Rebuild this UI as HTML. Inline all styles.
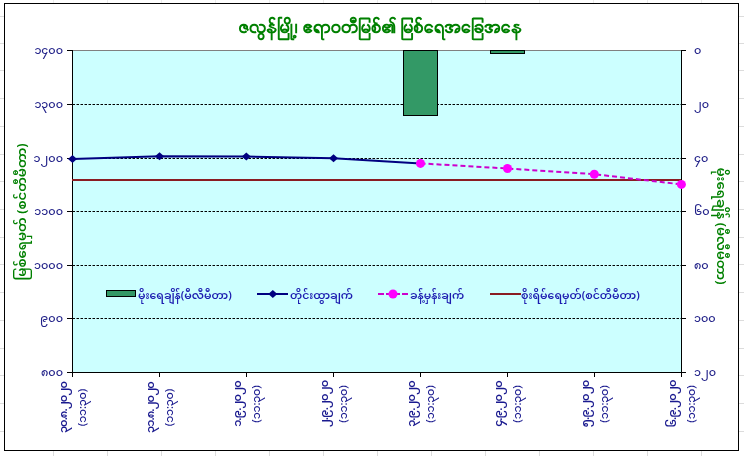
<!DOCTYPE html><html><head><meta charset="utf-8"><title>chart</title><style>
html,body{margin:0;padding:0;background:#fff;width:744px;height:456px;overflow:hidden}
svg{display:block;font-family:"Noto Sans Myanmar", "Padauk", "Myanmar Sans Pro", "Liberation Sans", sans-serif}
</style></head><body>
<svg width="744" height="456" viewBox="0 0 744 456">
<g stroke="#dcdcdc" stroke-width="1">
<line x1="739" y1="16.5" x2="744" y2="16.5"/>
<line x1="0" y1="16.5" x2="4" y2="16.5"/>
<line x1="739" y1="43.5" x2="744" y2="43.5"/>
<line x1="0" y1="43.5" x2="4" y2="43.5"/>
<line x1="739" y1="70.5" x2="744" y2="70.5"/>
<line x1="0" y1="70.5" x2="4" y2="70.5"/>
<line x1="739" y1="98.5" x2="744" y2="98.5"/>
<line x1="0" y1="98.5" x2="4" y2="98.5"/>
<line x1="739" y1="126.5" x2="744" y2="126.5"/>
<line x1="0" y1="126.5" x2="4" y2="126.5"/>
<line x1="739" y1="154.5" x2="744" y2="154.5"/>
<line x1="0" y1="154.5" x2="4" y2="154.5"/>
<line x1="739" y1="181.5" x2="744" y2="181.5"/>
<line x1="0" y1="181.5" x2="4" y2="181.5"/>
<line x1="739" y1="209.5" x2="744" y2="209.5"/>
<line x1="0" y1="209.5" x2="4" y2="209.5"/>
<line x1="739" y1="237.5" x2="744" y2="237.5"/>
<line x1="0" y1="237.5" x2="4" y2="237.5"/>
<line x1="739" y1="264.5" x2="744" y2="264.5"/>
<line x1="0" y1="264.5" x2="4" y2="264.5"/>
<line x1="739" y1="292.5" x2="744" y2="292.5"/>
<line x1="0" y1="292.5" x2="4" y2="292.5"/>
<line x1="739" y1="320.5" x2="744" y2="320.5"/>
<line x1="0" y1="320.5" x2="4" y2="320.5"/>
<line x1="739" y1="348.5" x2="744" y2="348.5"/>
<line x1="0" y1="348.5" x2="4" y2="348.5"/>
<line x1="739" y1="375.5" x2="744" y2="375.5"/>
<line x1="0" y1="375.5" x2="4" y2="375.5"/>
<line x1="739" y1="403.5" x2="744" y2="403.5"/>
<line x1="0" y1="403.5" x2="4" y2="403.5"/>
<line x1="739" y1="431.5" x2="744" y2="431.5"/>
<line x1="0" y1="431.5" x2="4" y2="431.5"/>
<line x1="53.5" y1="451" x2="53.5" y2="456"/>
<line x1="53.5" y1="0" x2="53.5" y2="3" stroke="#ececec"/>
<line x1="107.5" y1="451" x2="107.5" y2="456"/>
<line x1="107.5" y1="0" x2="107.5" y2="3" stroke="#ececec"/>
<line x1="161.5" y1="451" x2="161.5" y2="456"/>
<line x1="161.5" y1="0" x2="161.5" y2="3" stroke="#ececec"/>
<line x1="215.5" y1="451" x2="215.5" y2="456"/>
<line x1="215.5" y1="0" x2="215.5" y2="3" stroke="#ececec"/>
<line x1="269.5" y1="451" x2="269.5" y2="456"/>
<line x1="269.5" y1="0" x2="269.5" y2="3" stroke="#ececec"/>
<line x1="323.5" y1="451" x2="323.5" y2="456"/>
<line x1="323.5" y1="0" x2="323.5" y2="3" stroke="#ececec"/>
<line x1="377.5" y1="451" x2="377.5" y2="456"/>
<line x1="377.5" y1="0" x2="377.5" y2="3" stroke="#ececec"/>
<line x1="431.5" y1="451" x2="431.5" y2="456"/>
<line x1="431.5" y1="0" x2="431.5" y2="3" stroke="#ececec"/>
<line x1="485.5" y1="451" x2="485.5" y2="456"/>
<line x1="485.5" y1="0" x2="485.5" y2="3" stroke="#ececec"/>
<line x1="539.5" y1="451" x2="539.5" y2="456"/>
<line x1="539.5" y1="0" x2="539.5" y2="3" stroke="#ececec"/>
<line x1="593.5" y1="451" x2="593.5" y2="456"/>
<line x1="593.5" y1="0" x2="593.5" y2="3" stroke="#ececec"/>
<line x1="647.5" y1="451" x2="647.5" y2="456"/>
<line x1="647.5" y1="0" x2="647.5" y2="3" stroke="#ececec"/>
<line x1="701.5" y1="451" x2="701.5" y2="456"/>
<line x1="701.5" y1="0" x2="701.5" y2="3" stroke="#ececec"/>
</g>
<rect x="4.5" y="3.5" width="734" height="447" fill="#fff" stroke="#000" stroke-width="1"/>
<rect x="72" y="50" width="609" height="322" fill="#ccffff"/>
<line x1="72" y1="50.5" x2="681" y2="50.5" stroke="#808080" stroke-width="1"/>
<g stroke="#000" stroke-width="1" stroke-dasharray="2.5 1.5">
<line x1="72.5" y1="104.5" x2="681" y2="104.5"/>
<line x1="72.5" y1="158.5" x2="681" y2="158.5"/>
<line x1="72.5" y1="211.5" x2="681" y2="211.5"/>
<line x1="72.5" y1="265.5" x2="681" y2="265.5"/>
<line x1="72.5" y1="318.5" x2="681" y2="318.5"/>
</g>
<g fill="#339966" stroke="#000" stroke-width="1">
<rect x="403.5" y="50.5" width="34" height="65"/>
<rect x="490.5" y="50.5" width="34" height="3"/>
</g>
<g stroke="#000" stroke-width="1">
<line x1="72.5" y1="50" x2="72.5" y2="377"/>
<line x1="681.5" y1="50" x2="681.5" y2="377"/>
<line x1="67" y1="372.5" x2="686" y2="372.5"/>
<line x1="67" y1="50.5" x2="72" y2="50.5"/>
<line x1="682" y1="50.5" x2="686" y2="50.5"/>
<line x1="67" y1="104.5" x2="72" y2="104.5"/>
<line x1="682" y1="104.5" x2="686" y2="104.5"/>
<line x1="67" y1="158.5" x2="72" y2="158.5"/>
<line x1="682" y1="158.5" x2="686" y2="158.5"/>
<line x1="67" y1="211.5" x2="72" y2="211.5"/>
<line x1="682" y1="211.5" x2="686" y2="211.5"/>
<line x1="67" y1="265.5" x2="72" y2="265.5"/>
<line x1="682" y1="265.5" x2="686" y2="265.5"/>
<line x1="67" y1="318.5" x2="72" y2="318.5"/>
<line x1="682" y1="318.5" x2="686" y2="318.5"/>
<line x1="67" y1="372.5" x2="72" y2="372.5"/>
<line x1="682" y1="372.5" x2="686" y2="372.5"/>
<line x1="72.5" y1="372" x2="72.5" y2="377"/>
<line x1="159.5" y1="372" x2="159.5" y2="377"/>
<line x1="246.5" y1="372" x2="246.5" y2="377"/>
<line x1="333.5" y1="372" x2="333.5" y2="377"/>
<line x1="420.5" y1="372" x2="420.5" y2="377"/>
<line x1="507.5" y1="372" x2="507.5" y2="377"/>
<line x1="594.5" y1="372" x2="594.5" y2="377"/>
<line x1="681.5" y1="372" x2="681.5" y2="377"/>
</g>
<line x1="72" y1="180" x2="681" y2="180" stroke="#8a1c22" stroke-width="2"/>
<polyline points="72.5,159.0 159.5,156.3 246.3,156.5 333.5,158.3 420.5,163.4" fill="none" stroke="#000080" stroke-width="2"/>
<polyline points="420.5,163.4 507.5,168.5 594.3,174.2 681.4,184.4" fill="none" stroke="#cc00cc" stroke-width="2" stroke-dasharray="5 3"/>
<path d="M72.5 155.0l4.5 4l-4.5 4l-4.5 -4z" fill="#000080"/>
<path d="M159.5 152.3l4.5 4l-4.5 4l-4.5 -4z" fill="#000080"/>
<path d="M246.3 152.5l4.5 4l-4.5 4l-4.5 -4z" fill="#000080"/>
<path d="M333.5 154.3l4.5 4l-4.5 4l-4.5 -4z" fill="#000080"/>
<circle cx="420.5" cy="163.4" r="4.5" fill="#ff00ff"/>
<circle cx="507.5" cy="168.5" r="4.5" fill="#ff00ff"/>
<circle cx="594.3" cy="174.2" r="4.5" fill="#ff00ff"/>
<circle cx="681.4" cy="184.4" r="4.5" fill="#ff00ff"/>
<text x="381" y="32.7" text-anchor="middle" font-family='"TharLon", "Noto Sans Myanmar", "Padauk", "Liberation Sans", sans-serif' font-size="15.5" font-weight="bold" fill="#008000">ဇလွန်မြို့၊ ဧရာဝတီမြစ်၏ မြစ်ရေအခြေအနေ</text>
<g fill="#24248a" font-weight="500" font-size="11.2" text-anchor="end">
<text x="63" y="54.0">၁၄၀၀</text>
<text x="63" y="108.0">၁၃၀၀</text>
<text x="63" y="162.0">၁၂၀၀</text>
<text x="63" y="215.0">၁၁၀၀</text>
<text x="63" y="269.0">၁၀၀၀</text>
<text x="63" y="322.0">၉၀၀</text>
<text x="63" y="376.0">၈၀၀</text>
</g>
<g fill="#24248a" font-weight="500" font-size="11.2" text-anchor="start">
<text x="694" y="54.0">၀</text>
<text x="694" y="108.0">၂၀</text>
<text x="694" y="162.0">၄၀</text>
<text x="694" y="215.0">၆၀</text>
<text x="694" y="269.0">၈၀</text>
<text x="694" y="322.0">၁၀၀</text>
<text x="694" y="376.0">၁၂၀</text>
</g>
<g fill="#1a1a8f" font-weight="600" text-anchor="middle">
<text transform="translate(72.0 407.5) rotate(-90)"><tspan x="0" y="-5" font-size="11.5" letter-spacing="-1">၃၀.၈.၂၀၂၀</tspan><tspan x="0" y="13.5" font-size="11.3" font-weight="500" letter-spacing="-0.2">(၁၁:၃၀)</tspan></text>
<text transform="translate(159.0 407.5) rotate(-90)"><tspan x="0" y="-5" font-size="11.5" letter-spacing="-1">၃၁.၈.၂၀၂၀</tspan><tspan x="0" y="13.5" font-size="11.3" font-weight="500" letter-spacing="-0.2">(၁၁:၃၀)</tspan></text>
<text transform="translate(246.0 404.0) rotate(-90)"><tspan x="0" y="-5" font-size="11.5" letter-spacing="-1">၁.၉.၂၀၂၀</tspan><tspan x="0" y="13.5" font-size="11.3" font-weight="500" letter-spacing="-0.2">(၁၁:၃၀)</tspan></text>
<text transform="translate(333.0 404.0) rotate(-90)"><tspan x="0" y="-5" font-size="11.5" letter-spacing="-1">၂.၉.၂၀၂၀</tspan><tspan x="0" y="13.5" font-size="11.3" font-weight="500" letter-spacing="-0.2">(၁၁:၃၀)</tspan></text>
<text transform="translate(420.0 404.0) rotate(-90)"><tspan x="0" y="-5" font-size="11.5" letter-spacing="-1">၃.၉.၂၀၂၀</tspan><tspan x="0" y="13.5" font-size="11.3" font-weight="500" letter-spacing="-0.2">(၁၁:၃၀)</tspan></text>
<text transform="translate(507.0 404.0) rotate(-90)"><tspan x="0" y="-5" font-size="11.5" letter-spacing="-1">၄.၉.၂၀၂၀</tspan><tspan x="0" y="13.5" font-size="11.3" font-weight="500" letter-spacing="-0.2">(၁၁:၃၀)</tspan></text>
<text transform="translate(594.0 404.0) rotate(-90)"><tspan x="0" y="-5" font-size="11.5" letter-spacing="-1">၅.၉.၂၀၂၀</tspan><tspan x="0" y="13.5" font-size="11.3" font-weight="500" letter-spacing="-0.2">(၁၁:၃၀)</tspan></text>
<text transform="translate(681.0 404.0) rotate(-90)"><tspan x="0" y="-5" font-size="11.5" letter-spacing="-1">၆.၉.၂၀၂၀</tspan><tspan x="0" y="13.5" font-size="11.3" font-weight="500" letter-spacing="-0.2">(၁၁:၃၀)</tspan></text>
</g>
<text transform="translate(25.8 212) rotate(-90)" text-anchor="middle" font-size="13.2" font-weight="600" fill="#008000">မြစ်ရေမှတ် (စင်တီမီတာ)</text>
<text transform="translate(716.5 226) rotate(90)" text-anchor="middle" font-size="13.2" font-weight="600" fill="#008000">မိုးရေချိန် (မီလီမီတာ)</text>
<rect x="106.5" y="290.5" width="29" height="6" fill="#339966" stroke="#000" stroke-width="1"/>
<line x1="257" y1="294" x2="288" y2="294" stroke="#000080" stroke-width="2"/>
<path d="M272.8 290l4.5 4l-4.5 4l-4.5 -4z" fill="#000080"/>
<line x1="378" y1="294" x2="408" y2="294" stroke="#cc00cc" stroke-width="2" stroke-dasharray="6 2"/>
<circle cx="393" cy="294" r="4.5" fill="#ff00ff"/>
<line x1="490" y1="294" x2="521" y2="294" stroke="#8a1c22" stroke-width="2"/>
<g fill="#1c1cb0" font-weight="600" font-size="10.9">
<text x="138" y="299">မိုးရေချိန်(မီလီမီတာ)</text>
<text x="290" y="299">တိုင်းထွာချက်</text>
<text x="410" y="299">ခန့်မှန်းချက်</text>
<text x="521" y="299">စိုးရိမ်ရေမှတ်(စင်တီမီတာ)</text>
</g>
</svg></body></html>
